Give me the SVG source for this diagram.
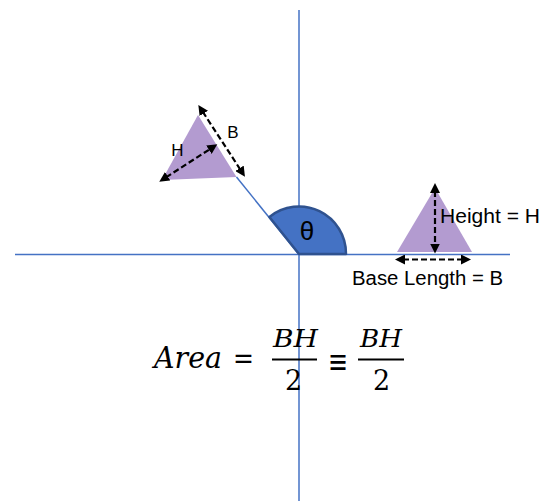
<svg xmlns="http://www.w3.org/2000/svg" width="554" height="501" viewBox="0 0 554 501">
  <style>
    .axis { stroke: #4472C4; stroke-width: 1.5; fill: none; }
    .tri { fill: #B39BD0; stroke: none; }
    .arr { stroke: #000; stroke-width: 2.2; stroke-dasharray: 6 3; fill: none; marker-start: url(#ah); marker-end: url(#ah); }
    .lbl { font-family: "Liberation Sans", Arial, sans-serif; fill: #000; }
    .math { font-family: "DejaVu Serif", "Liberation Serif", serif; fill: #000; }
    .it { font-style: italic; }
    .bar { stroke: #000; stroke-width: 2; }
  </style>
  <defs>
    <marker id="ah" markerUnits="userSpaceOnUse" markerWidth="11" markerHeight="10" refX="2" refY="5" orient="auto-start-reverse" viewBox="0 0 11 10">
      <path d="M0,0 L10,5 L0,10 z" fill="#000"/>
    </marker>
  </defs>

  <g id="connectors">
    <line class="axis" x1="299" y1="10" x2="299" y2="501"/>
    <line class="axis" x1="15" y1="254.5" x2="510" y2="254.5"/>
    <line class="axis" x1="236.5" y1="177" x2="299" y2="254.5" stroke-width="1.2"/>
  </g>

  <g id="angle-sector">
    <path d="M299,254 L346,254 A47,47 0 0 0 269.4,217 Z" fill="#4472C4" stroke="#2F528F" stroke-width="2.5" stroke-linejoin="round"/>
    <text class="lbl" x="307" y="240" font-size="26" text-anchor="middle">θ</text>
  </g>

  <g id="rotated-triangle">
    <polygon class="tri" points="198,115 162,180 236.5,177"/>
    <line class="arr" x1="202.7" y1="111.7" x2="240.6" y2="170"/>
    <line class="arr" x1="166" y1="177.4" x2="210.6" y2="148.7"/>
    <text class="lbl" x="177.5" y="156" font-size="17" text-anchor="middle">H</text>
    <text class="lbl" x="233" y="137.5" font-size="17" text-anchor="middle">B</text>
  </g>

  <g id="upright-triangle">
    <polygon class="tri" points="435,188 397,252 472,252"/>
    <line class="arr" x1="435" y1="191" x2="435" y2="245.5"/>
    <line class="arr" x1="403" y1="259.5" x2="463" y2="259.5"/>
    <text class="lbl" x="440" y="223" font-size="20" textLength="100" lengthAdjust="spacingAndGlyphs">Height = H</text>
    <text class="lbl" x="352" y="285" font-size="20" textLength="151" lengthAdjust="spacingAndGlyphs">Base Length = B</text>
  </g>

  <g id="formula">
    <text class="math it" x="154" y="368" font-size="29" textLength="68" lengthAdjust="spacingAndGlyphs">Area</text>
    <text class="math" x="233" y="368" font-size="29" textLength="21" lengthAdjust="spacingAndGlyphs">=</text>
    <text class="math it" x="273" y="347" font-size="24" textLength="45" lengthAdjust="spacingAndGlyphs">BH</text>
    <line class="bar" x1="272" y1="359.5" x2="317" y2="359.5"/>
    <text class="math" x="293.5" y="390" font-size="27" text-anchor="middle">2</text>
    <text class="math" x="328" y="373" font-size="34" textLength="20" lengthAdjust="spacingAndGlyphs">≡</text>
    <text class="math it" x="360" y="347" font-size="24" textLength="42" lengthAdjust="spacingAndGlyphs">BH</text>
    <line class="bar" x1="358" y1="359.5" x2="404" y2="359.5"/>
    <text class="math" x="381.5" y="390" font-size="27" text-anchor="middle">2</text>
  </g>
</svg>
